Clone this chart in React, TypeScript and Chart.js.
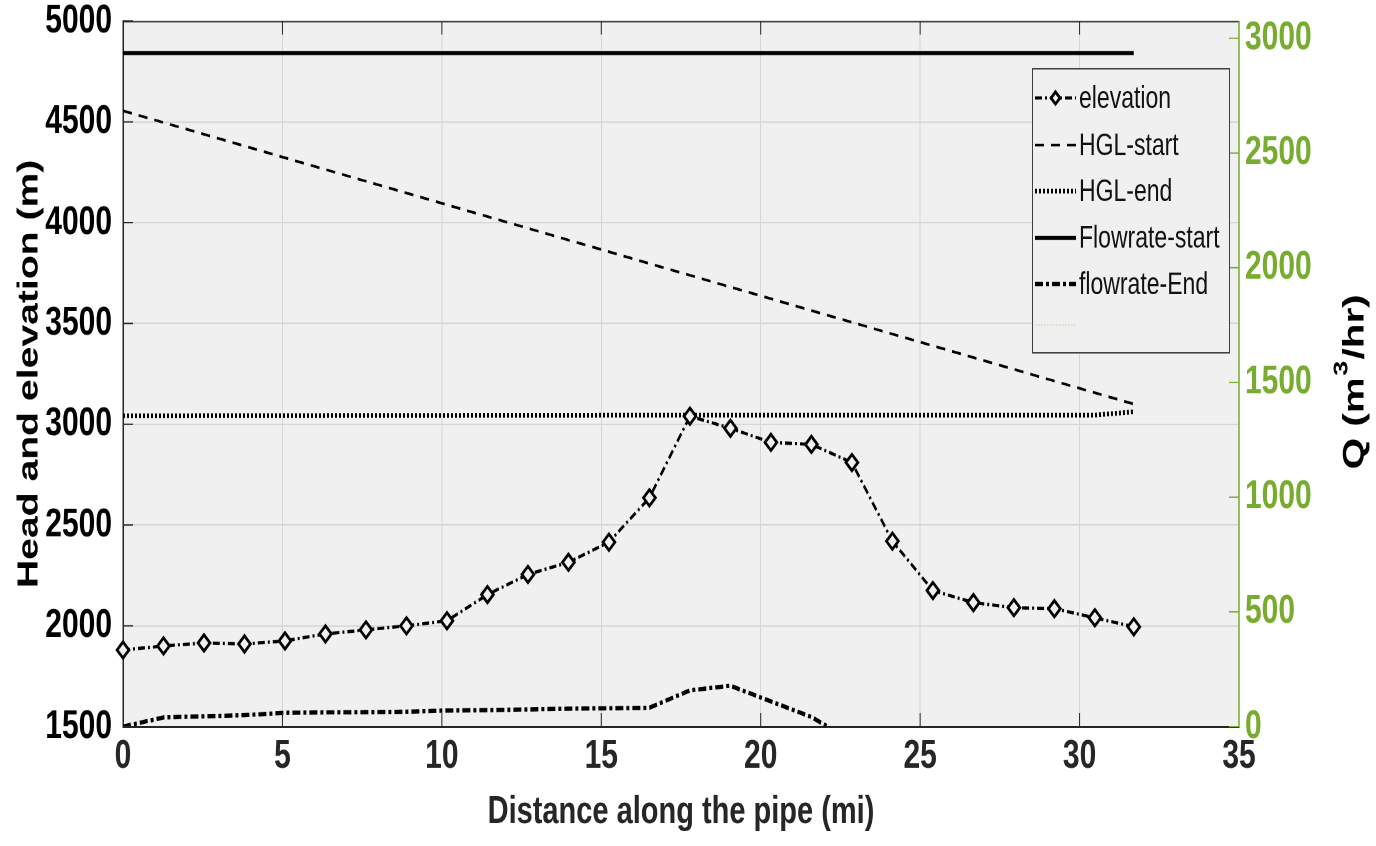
import React, { useEffect, useRef } from 'react';
import { Chart, registerables } from 'chart.js';

Chart.register(...registerables);

// ---------- data ----------
const distance = [0, 1.27, 2.54, 3.81, 5.08, 6.35, 7.62, 8.89, 10.16, 11.43, 12.7, 13.97, 15.24, 16.51, 17.78, 19.05, 20.32, 21.59, 22.86, 24.13, 25.4, 26.67, 27.94, 29.21, 30.48, 31.7];
const elevation = [1880, 1900, 1915, 1910, 1925, 1960, 1980, 2000, 2025, 2155, 2255, 2315, 2415, 2635, 3040, 2980, 2910, 2900, 2810, 2420, 2175, 2115, 2090, 2085, 2040, 1995];

const hglStartDistance = [0, 31.7];
const hglStart = [4555, 3100];

const hglEndDistance = [0, 15.24, 30.48, 31.7];
const hglEnd = [3042, 3045, 3045, 3062];

const flowStartDistance = [0, 31.7];
const flowStart = [2935, 2935];

const flowEndDistance = [0, 1.27, 2.54, 3.81, 5.08, 6.35, 7.62, 8.89, 10.16, 11.43, 12.7, 13.97, 15.24, 16.51, 17.78, 19.05, 20.32, 21.59, 22.1];
const flowEnd = [0, 40, 45, 50, 60, 62, 63, 65, 70, 72, 75, 78, 80, 82, 158, 178, 110, 42, 0];

const seriesLabels = ['elevation', 'HGL-start', 'HGL-end', 'Flowrate-start', 'flowrate-End'];

const qTicks = [0, 500, 1000, 1500, 2000, 2500, 3000];

const xTitle = 'Distance along the pipe (mi)';
const yTitle = 'Head and elevation (m)';
const y1TitleMain = 'Q (m';
const y1TitleSup = '3';
const y1TitleEnd = '/hr)';

const FONT = "'Liberation Sans', Arial, Helvetica, sans-serif";
const GREEN = '#77AC30';
const DARK = '#262626';
const PLOT_BG = '#f0f0f0';

const W = 1376;
const H = 627; // drawn height; displayed stretched to 846

const pts = (xs: number[], ys: number[]) => xs.map((x, i) => ({ x, y: ys[i] }));

const bgPlugin = {
  id: 'bgPlugin',
  beforeDraw(chart: any) {
    const { ctx, chartArea: a } = chart;
    ctx.save();
    ctx.fillStyle = '#ffffff';
    ctx.fillRect(0, 0, chart.width, chart.height);
    ctx.fillStyle = PLOT_BG;
    ctx.fillRect(a.left, a.top, a.right - a.left, a.bottom - a.top);
    ctx.restore();
  },
};

function drawDiamond(ctx: CanvasRenderingContext2D, cx: number, cy: number, r: number) {
  ctx.beginPath();
  ctx.moveTo(cx, cy - r);
  ctx.lineTo(cx + r, cy);
  ctx.lineTo(cx, cy + r);
  ctx.lineTo(cx - r, cy);
  ctx.closePath();
}

const decorPlugin = {
  id: 'decorPlugin',
  afterDraw(chart: any) {
    const { ctx, chartArea: a, scales } = chart;
    ctx.save();
    ctx.strokeStyle = DARK;
    ctx.lineWidth = 1;
    ctx.setLineDash([]);
    ctx.beginPath();
    ctx.moveTo(a.left, a.top + 0.5);
    ctx.lineTo(a.right, a.top + 0.5);
    ctx.stroke();

    const xs = scales.x;
    xs.ticks.forEach((t: any) => {
      const px = xs.getPixelForValue(t.value);
      ctx.beginPath();
      ctx.moveTo(px, a.bottom);
      ctx.lineTo(px, a.bottom - 10);
      ctx.moveTo(px, a.top);
      ctx.lineTo(px, a.top + 10);
      ctx.stroke();
    });
    const ys = scales.y;
    ys.ticks.forEach((t: any) => {
      const py = ys.getPixelForValue(t.value);
      ctx.beginPath();
      ctx.moveTo(a.left, py);
      ctx.lineTo(a.left + 10, py);
      ctx.stroke();
    });
    const y1 = scales.y1;
    ctx.strokeStyle = GREEN;
    y1.ticks.forEach((t: any) => {
      const py = y1.getPixelForValue(t.value);
      ctx.beginPath();
      ctx.moveTo(a.right, py);
      ctx.lineTo(a.right - 10, py);
      ctx.stroke();
    });
    ctx.lineWidth = 1.5;
    ctx.beginPath();
    ctx.moveTo(a.right, a.top);
    ctx.lineTo(a.right, a.bottom);
    ctx.stroke();

    // right axis title, reading bottom-to-top, with superscript
    ctx.fillStyle = '#000';
    ctx.textBaseline = 'middle';
    ctx.textAlign = 'left';
    const mainFont = `bold 30px ${FONT}`;
    const supFont = `bold 20px ${FONT}`;
    ctx.font = mainFont;
    const w1 = ctx.measureText(y1TitleMain).width;
    const w3 = ctx.measureText(y1TitleEnd).width;
    ctx.font = supFont;
    const w2 = ctx.measureText(y1TitleSup).width + 2;
    const total = w1 + w2 + w3;
    ctx.translate(1355, 283);
    ctx.rotate(-Math.PI / 2);
    let cx = -total / 2;
    ctx.font = mainFont;
    ctx.fillText(y1TitleMain, cx, 0);
    cx += w1 + 1;
    ctx.font = supFont;
    ctx.fillText(y1TitleSup, cx, -13);
    cx += w2 - 1;
    ctx.font = mainFont;
    ctx.fillText(y1TitleEnd, cx, 0);
    ctx.restore();

    // legend
    ctx.save();
    const bx = 1032, by = 50.5, bw = 197, bh = 210.5;
    ctx.fillStyle = PLOT_BG;
    ctx.fillRect(bx, by, bw, bh);
    ctx.strokeStyle = '#404040';
    ctx.lineWidth = 1;
    ctx.strokeRect(bx + 0.5, by + 0.5, bw, bh);
    const rows = [72.6, 107.5, 141.6, 176.4, 210.5, 240.9];
    const ds = chart.data.datasets;
    ds.forEach((d: any, i: number) => {
      const y = rows[i];
      ctx.strokeStyle = d.borderColor;
      ctx.lineWidth = d.borderWidth;
      ctx.setLineDash(d.borderDash || []);
      ctx.beginPath();
      ctx.moveTo(1035, y);
      ctx.lineTo(1076, y);
      ctx.stroke();
      if (d.pointRadius > 0) {
        ctx.setLineDash([]);
        ctx.lineWidth = d.pointBorderWidth;
        ctx.fillStyle = d.pointBackgroundColor;
        drawDiamond(ctx, 1055.5, y, 4.5);
        ctx.fill();
        ctx.stroke();
      }
      ctx.setLineDash([]);
      ctx.fillStyle = '#111';
      ctx.font = `23px ${FONT}`;
      ctx.textAlign = 'left';
      ctx.textBaseline = 'middle';
      ctx.fillText(d.label, 1079, y + 1);
    });
    ctx.strokeStyle = '#e3cfa6';
    ctx.lineWidth = 1;
    ctx.setLineDash([1.5, 1.5]);
    ctx.beginPath();
    ctx.moveTo(1035, rows[5]);
    ctx.lineTo(1076, rows[5]);
    ctx.stroke();
    ctx.restore();
  },
};

const noPadV = (s: any) => {
  s.paddingTop = 0;
  s.paddingBottom = 0;
};

export default function App() {
  const ref = useRef<HTMLCanvasElement | null>(null);

  useEffect(() => {
    if (!ref.current) return;
    const chart = new Chart(ref.current, {
      type: 'line',
      data: {
        datasets: [
          {
            label: seriesLabels[0],
            data: pts(distance, elevation),
            yAxisID: 'y',
            borderColor: '#000',
            borderWidth: 2.4,
            borderDash: [7, 3, 2, 3],
            pointStyle: 'rectRot',
            pointRadius: 6,
            pointBorderWidth: 2.4,
            pointBorderColor: '#000',
            pointBackgroundColor: PLOT_BG,
            tension: 0,
            clip: false,
          },
          {
            label: seriesLabels[1],
            data: pts(hglStartDistance, hglStart),
            yAxisID: 'y',
            borderColor: '#000',
            borderWidth: 2,
            borderDash: [9, 7],
            pointRadius: 0,
          },
          {
            label: seriesLabels[2],
            data: pts(hglEndDistance, hglEnd),
            yAxisID: 'y',
            borderColor: '#000',
            borderWidth: 3.5,
            borderDash: [2, 2],
            pointRadius: 0,
          },
          {
            label: seriesLabels[3],
            data: pts(flowStartDistance, flowStart),
            yAxisID: 'y1',
            borderColor: '#000',
            borderWidth: 3,
            borderDash: [],
            pointRadius: 0,
          },
          {
            label: seriesLabels[4],
            data: pts(flowEndDistance, flowEnd),
            yAxisID: 'y1',
            borderColor: '#000',
            borderWidth: 3.2,
            borderDash: [8, 3, 3, 3],
            pointRadius: 0,
          },
        ],
      },
      options: {
        animation: false,
        responsive: false,
        devicePixelRatio: 2,
        layout: { padding: { top: 15.6, left: 0, right: 0, bottom: 0 } },
        plugins: {
          legend: { display: false },
          tooltip: { enabled: false },
        },
        scales: {
          x: {
            type: 'linear',
            min: 0,
            max: 35,
            ticks: {
              stepSize: 5,
              color: DARK,
              padding: 4,
              font: { family: FONT, size: 30, weight: 'bold' },
              maxRotation: 0,
              callback: (v: any) => String(v),
            },
            grid: { color: '#d6d6d6', lineWidth: 1, drawTicks: false },
            border: { color: DARK, width: 1.5 },
            title: {
              display: true,
              text: xTitle,
              color: DARK,
              font: { family: FONT, size: 29, weight: 'bold' },
              padding: { top: 0, bottom: 7.8 },
            },
            afterFit: (s: any) => {
              s.height = H - 538.5;
              s.paddingLeft = 0;
              s.paddingRight = 0;
            },
          },
          y: {
            type: 'linear',
            position: 'left',
            min: 1500,
            max: 5000,
            ticks: {
              stepSize: 500,
              color: '#000',
              padding: 11,
              font: { family: FONT, size: 30, weight: 'bold' },
              callback: (v: any) => String(v),
            },
            grid: { color: '#d6d6d6', lineWidth: 1, drawTicks: false },
            border: { color: DARK, width: 1.5 },
            title: {
              display: true,
              text: yTitle,
              color: '#000',
              font: { family: FONT, size: 29, weight: 'bold' },
              padding: { top: 12, bottom: 0 },
            },
            afterFit: (s: any) => {
              s.width = 123;
              noPadV(s);
            },
          },
          y1: {
            type: 'linear',
            position: 'right',
            min: 0,
            max: 3075,
            afterBuildTicks: (s: any) => {
              s.ticks = qTicks.map((v) => ({ value: v }));
            },
            ticks: {
              color: GREEN,
              padding: 6,
              autoSkip: false,
              font: { family: FONT, size: 30, weight: 'bold' },
              callback: (v: any) => String(v),
            },
            grid: { display: false, drawTicks: false },
            border: { display: false },
            afterFit: (s: any) => {
              s.width = W - 1239;
              noPadV(s);
            },
          },
        },
      },
      plugins: [bgPlugin, decorPlugin],
    } as any);
    return () => chart.destroy();
  }, []);

  return (
    <div style={{ position: 'fixed', left: 0, top: 0, width: W, height: 846, background: '#fff' }}>
      <canvas ref={ref} width={W} height={H} style={{ width: W + 'px', height: '846px', display: 'block' }} />
    </div>
  );
}
